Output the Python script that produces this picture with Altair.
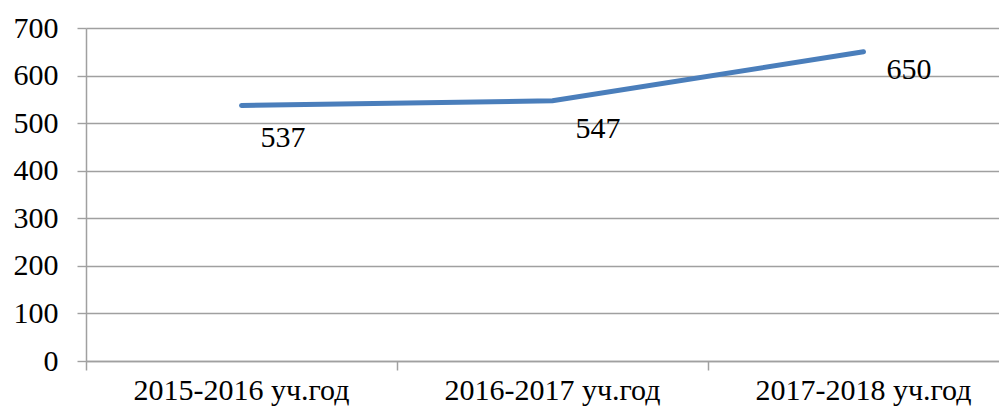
import altair as alt
import pandas as pd

years = ["2015-2016 уч.год", "2016-2017 уч.год", "2017-2018 уч.год"]
values = [537, 547, 650]
y_ticks = [0, 100, 200, 300, 400, 500, 600, 700]

df = pd.DataFrame({"year": years, "value": values, "idx": list(range(len(years)))})

FONT = "Liberation Serif"
GRID = "#a0a0a0"

x_scale = alt.Scale(type="band", range=[0, 933], paddingInner=0, paddingOuter=0)
x_enc = alt.X(
    "year:N",
    sort=years,
    scale=x_scale,
    bandPosition=0.5,
    axis=alt.Axis(
        title=None, labelAngle=0, bandPosition=0, ticks=True, tickSize=9,
        tickColor=GRID, tickWidth=1.5, domainColor=GRID, domainWidth=1.5,
        labelFont=FONT, labelFontSize=30, labelColor="black", labelLimit=0,
        labelPadding=5, labelBaseline="top", grid=False, labelFlush=False,
    ),
)

y_enc = alt.Y(
    "value:Q",
    scale=alt.Scale(domain=[0, 700], nice=False),
    axis=alt.Axis(
        title=None, values=y_ticks, grid=True, gridColor=GRID, gridWidth=1.4,
        tickSize=9, tickColor=GRID, tickWidth=1.4, domainColor=GRID, domainWidth=1.5,
        labelFont=FONT, labelFontSize=30, labelColor="black", labelPadding=19,
    ),
)

base = alt.Chart(df)

line = base.mark_line(color="#4a7ebb", strokeWidth=5, strokeCap="round").encode(
    x=x_enc, y=y_enc
)

offsets = [(19, 41), (23, 37), (23, 27)]
label_layers = []
for i, (dx, dy) in enumerate(offsets):
    label_layers.append(
        base.transform_filter(alt.datum.idx == i)
        .mark_text(align="left", baseline="alphabetic", dx=dx, dy=dy,
                   font=FONT, fontSize=30, color="black")
        .encode(x=x_enc, y=y_enc, text="value:Q")
    )

chart = alt.layer(line, *label_layers).properties(
    width=913, height=333,
    autosize=alt.AutoSizeParams(type="none"),
    padding={"left": 78, "top": 20, "right": 0, "bottom": 45},
).configure_view(stroke=None).configure_axis(
    labelFont=FONT
).configure_text(font=FONT)

chart.save("out.html", embed_options={"renderer": "svg", "actions": False})
